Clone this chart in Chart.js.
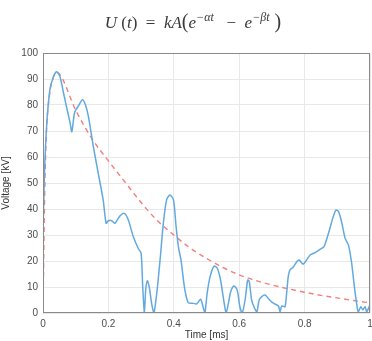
<!DOCTYPE html>
<html>
<head>
<meta charset="utf-8">
<script src="https://cdn.jsdelivr.net/npm/chart.js@4/dist/chart.umd.min.js"></script>
<style>
  body { margin: 0; background: #fff; }
  canvas { display: block; }
</style>
</head>
<body>
<canvas id="myChart" width="372" height="341"></canvas>
<script>
// measured voltage (blue)
var blueT = [0, 0.004, 0.011, 0.021, 0.032, 0.042, 0.052, 0.062, 0.072, 0.083, 0.088, 0.096, 0.1, 0.11, 0.121, 0.13, 0.139, 0.154, 0.169, 0.184, 0.193,
  0.2, 0.21, 0.22, 0.235, 0.249, 0.261, 0.276, 0.291, 0.3, 0.305, 0.31, 0.314, 0.319, 0.325, 0.332, 0.339, 0.348, 0.358, 0.368, 0.378, 0.388, 0.399,
  0.407, 0.414, 0.422, 0.427, 0.434, 0.444, 0.46, 0.47, 0.482, 0.488, 0.495, 0.502, 0.511, 0.523, 0.533, 0.543, 0.551, 0.56, 0.567, 0.574, 0.584, 0.594,
  0.602, 0.609, 0.618, 0.626, 0.631, 0.638, 0.645, 0.654, 0.661, 0.669, 0.679, 0.689, 0.699, 0.709, 0.72, 0.725, 0.73, 0.74, 0.745, 0.75, 0.755, 0.765,
  0.776, 0.783, 0.791, 0.796, 0.806, 0.817, 0.832, 0.847, 0.859, 0.865, 0.876, 0.886, 0.896, 0.904, 0.913, 0.924, 0.934, 0.944, 0.951, 0.959, 0.964,
  0.972, 0.978, 0.985, 0.99, 1.0];
var blueV = [30, 52, 71.7, 85.8, 90.9, 92.8, 90.9, 85.1, 79.3, 73, 69.7, 76.8, 78, 80, 82, 80, 75.5, 64, 53.7, 43.5, 34.5,
  35.5, 35.5, 34.5, 37.3, 38.3, 35.8, 29.4, 24.9, 23, 10, 0, 8.8, 12.4, 10, 3.8, 0, 7.7, 20.4, 34.5, 43.5, 45.4, 43.5,
  33.2, 25.5, 20.4, 15.3, 8.8, 4, 3.7, 3.5, 5.3, 3.1, 0, 7.6, 14, 18, 17.2, 12.7, 6.3, 0, 3.7, 8.2, 10.4, 8.8,
  2.4, 0, 5, 12.7, 12, 5, 2.4, 0.5, 5, 6.3, 6.9, 5.6, 4.3, 3.5, 2.7, 0.5, 2.7, 2.4, 7.6, 14, 16.5, 17.6,
  19.7, 20.4, 19.3, 18.8, 20.4, 22.3, 23.2, 24.5, 25.5, 27.4, 31.9, 36.4, 39.6, 39, 35.1, 28.7, 26.2, 19.1, 11.4, 3.7, 0.5,
  2.4, 1.2, 2.4, 0.5, 3.1];

// fitted double exponential (red dashed)
var redT = [0, 0.005, 0.01, 0.02, 0.03, 0.04, 0.05, 0.1, 0.15, 0.2, 0.25, 0.3, 0.35, 0.4, 0.45, 0.5, 0.55, 0.6, 0.65, 0.7, 0.75, 0.8, 0.85, 0.9, 0.95, 1.0];
var redV = [0, 45, 68, 84, 90, 92.5, 92, 78, 67, 58.5, 50.5, 42.5, 35.5, 30, 25, 21, 17.5, 14.7, 12.5, 10.8, 9.3, 8, 6.8, 5.8, 4.8, 3.9];

var xTicks = [0, 0.2, 0.4, 0.6, 0.8, 1];

function pts(t, v) {
  return t.map(function (x, i) { return { x: x, y: v[i] }; });
}

// box around plot + formula title
var boxPlugin = {
  id: 'box',
  afterDraw: function (chart) {
    var c = chart.ctx, a = chart.chartArea;
    c.save();
    c.strokeStyle = '#8a8a8a';
    c.lineWidth = 1;
    c.strokeRect(a.left + 0.5, a.top + 0.5, a.right - a.left - 1, a.bottom - a.top - 1);

    // U(t) = kA(e^-at - e^-bt)
    c.fillStyle = '#3a3a3a';
    c.textBaseline = 'alphabetic';
    var it = 'italic 17px "Liberation Serif", "DejaVu Serif", serif';
    var up = '17px "Liberation Serif", "DejaVu Serif", serif';
    var small = 'italic 12px "Liberation Serif", "DejaVu Serif", serif';
    var par = '20px "Liberation Serif", serif';
    var parts = [
      [it, 'U', 0], [up, ' (', 0], [it, 't', 0], [up, ')  =  ', 0],
      [it, 'kA', 0], [par, '(', 0], [it, 'e', 0], [small, '\u2212\u03b1t', -7],
      [up, '   \u2212  ', 0], [it, 'e', 0], [small, '\u2212\u03b2t', -7],
      [par, ' )', 0]
    ];
    var w = 0;
    parts.forEach(function (p) { c.font = p[0]; w += c.measureText(p[1]).width; });
    var x = 193 - w / 2, y = 28;
    parts.forEach(function (p) {
      c.font = p[0];
      c.fillText(p[1], x, y + p[2]);
      x += c.measureText(p[1]).width;
    });
    c.restore();
  }
};

var ctx = document.getElementById('myChart').getContext('2d');
var chart = new Chart(ctx, {
  type: 'line',
  data: {
    datasets: [{
      data: pts(blueT, blueV),
      borderColor: '#62a9df',
      borderWidth: 1.5,
      pointRadius: 0,
      tension: 0.25
    }, {
      data: pts(redT, redV),
      borderColor: '#f47f7f',
      borderWidth: 1.4,
      borderDash: [5, 4],
      pointRadius: 0,
      cubicInterpolationMode: 'monotone'
    }]
  },
  options: {
    responsive: false,
    animation: false,
    layout: { padding: { top: 53, right: 2, left: 0, bottom: 0 } },
    plugins: { legend: { display: false }, tooltip: { enabled: false } },
    scales: {
      x: {
        type: 'linear',
        min: 0, max: 1,
        afterBuildTicks: function (s) { s.ticks = xTicks.map(function (v) { return { value: v }; }); },
        afterFit: function (s) { s.height = 28; s.paddingRight = 0; s.paddingLeft = 0; },
        grid: { color: '#e8e8e8', drawTicks: false },
        border: { display: false },
        ticks: {
          padding: 5,
          color: '#4d4d4d',
          font: { family: 'Liberation Sans, Arial, sans-serif', size: 10 },
          maxRotation: 0,
          callback: function (v) { return String(Math.round(v * 10) / 10); }
        },
        title: {
          display: true, text: 'Time [ms]', color: '#333',
          font: { family: 'Liberation Sans, Arial, sans-serif', size: 10 },
          padding: { top: 1, bottom: 0 }
        }
      },
      y: {
        min: 0, max: 100,
        afterFit: function (s) { s.width = 43; },
        grid: { color: '#e8e8e8', drawTicks: false },
        border: { display: false },
        ticks: {
          stepSize: 10,
          padding: 5,
          color: '#4d4d4d',
          font: { family: 'Liberation Sans, Arial, sans-serif', size: 10 }
        },
        title: {
          display: true, text: 'Voltage [kV]', color: '#333',
          font: { family: 'Liberation Sans, Arial, sans-serif', size: 10 },
          padding: { top: 0, bottom: 2 }
        }
      }
    }
  },
  plugins: [boxPlugin]
});
</script>
</body>
</html>
